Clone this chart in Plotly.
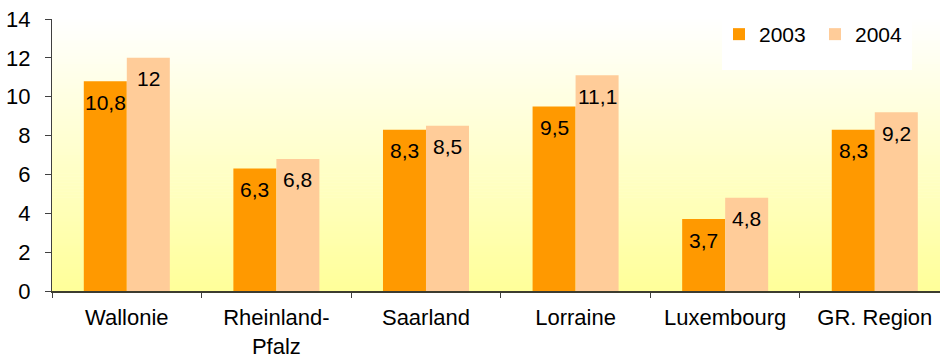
import plotly.graph_objects as go

# Data
regions = ["Wallonie", "Rheinland-<br>Pfalz", "Saarland", "Lorraine", "Luxembourg", "GR. Region"]
values_2003 = [10.8, 6.3, 8.3, 9.5, 3.7, 8.3]
values_2004 = [12, 6.8, 8.5, 11.1, 4.8, 9.2]
y_ticks = [0, 2, 4, 6, 8, 10, 12, 14]

FONT = "Arial, Liberation Sans, sans-serif"
C2003 = "#FF9900"
C2004 = "#FFCC99"

PLOT_LEFT, PLOT_TOP, PLOT_H, PLOT_W = 52, 19, 272, 888


def fmt(v):
    s = f"{v:g}"
    return s.replace(".", ",")


fig = go.Figure()
fig.add_trace(go.Bar(name="2003", x=regions, y=values_2003, marker=dict(color=C2003, line=dict(width=0))))
fig.add_trace(go.Bar(name="2004", x=regions, y=values_2004, marker=dict(color=C2004, line=dict(width=0))))

# value labels near the top of each bar
annotations = []
for vals, dx in ((values_2003, -21.5), (values_2004, 21.5)):
    for cat, v in zip(regions, vals):
        annotations.append(dict(
            x=cat, y=v, xref="x", yref="y", text=fmt(v), showarrow=False,
            xshift=dx, yshift=-21, yanchor="middle", xanchor="center",
            font=dict(family=FONT, size=21, color="black"),
        ))

# vertical background gradient: white at the top to pale yellow at the bottom
shapes = []
n = 90
top = (255, 255, 255)
bottom = (255, 255, 153)
for i in range(n):
    t = (i + 0.5) / n
    r = round(top[0] + (bottom[0] - top[0]) * t)
    g = round(top[1] + (bottom[1] - top[1]) * t)
    b = round(top[2] + (bottom[2] - top[2]) * t)
    y1 = 1 - i / n
    y0 = 1 - (i + 1) / n
    shapes.append(dict(
        type="rect", xref="paper", yref="paper", x0=0, x1=1, y0=y0 - 0.002, y1=y1,
        fillcolor=f"rgb({r},{g},{b})", line=dict(width=0), layer="below",
    ))


def px_x(p):
    return (p - PLOT_LEFT) / PLOT_W


def px_y(p):
    return (PLOT_TOP + PLOT_H - p) / PLOT_H


# white panel behind the legend
shapes.append(dict(
    type="rect", xref="paper", yref="paper",
    x0=px_x(722), x1=px_x(912), y0=px_y(70), y1=px_y(0),
    fillcolor="white", line=dict(width=0), layer="below",
))

fig.update_layout(
    width=940, height=361,
    margin=dict(l=PLOT_LEFT, r=0, t=PLOT_TOP, b=70),
    paper_bgcolor="white",
    plot_bgcolor="rgba(0,0,0,0)",
    barmode="group", bargap=0.425, bargroupgap=0,
    font=dict(family=FONT, size=22, color="black"),
    shapes=shapes,
    annotations=annotations,
    showlegend=True,
    legend=dict(
        orientation="h", x=px_x(719), y=px_y(14), xanchor="left", yanchor="top",
        bgcolor="rgba(0,0,0,0)", font=dict(family=FONT, size=21, color="black"),
        itemwidth=30, entrywidth=51, tracegroupgap=0,
    ),
    xaxis=dict(
        range=[-0.5, 5.436], showgrid=False, zeroline=False,
        showline=True, linecolor="#3c3c30", linewidth=2,
        ticks="outside", tickson="boundaries", ticklen=5, tickcolor="#404040",
        tickfont=dict(family=FONT, size=22, color="black"),
        ticklabelstandoff=6,
    ),
    yaxis=dict(
        range=[0, 14], tickvals=y_ticks, showgrid=False, zeroline=False,
        showline=True, linecolor="#404040", linewidth=1,
        ticks="outside", ticklen=6, tickcolor="#404040",
        tickfont=dict(family=FONT, size=22, color="black"),
        ticklabelstandoff=10,
    ),
)

fig.write_html("out.html")
